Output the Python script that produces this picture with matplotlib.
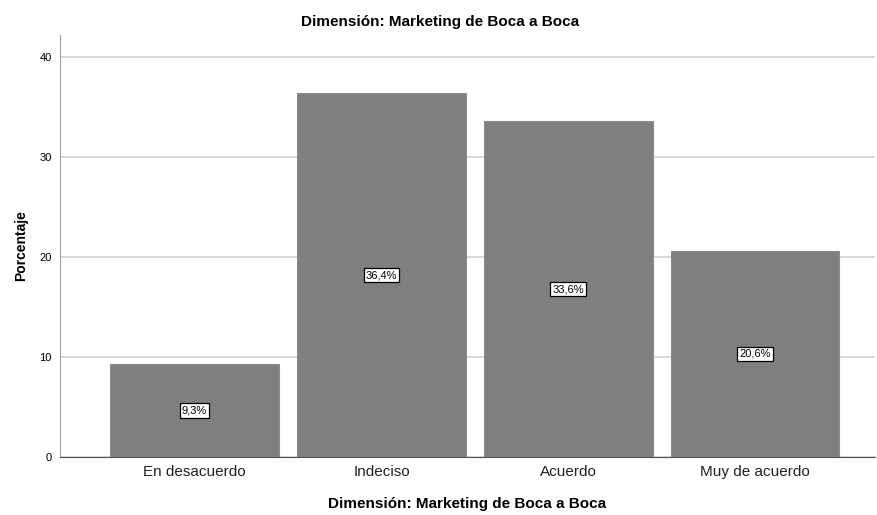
import matplotlib.pyplot as plt

# Data
categorias = ['En desacuerdo', 'Indeciso', 'Acuerdo', 'Muy de acuerdo']
porcentajes = [9.3, 36.4, 33.6, 20.6]
etiquetas = ['9,3%', '36,4%', '33,6%', '20,6%']
y_ticks = [0, 10, 20, 30, 40]

plt.rcParams['font.family'] = ['Liberation Sans', 'DejaVu Sans']

fig = plt.figure(figsize=(8.77, 5.15), dpi=100)
ax = fig.add_axes([60 / 877, 58 / 515, 815 / 877, 422 / 515])

x = range(len(categorias))
ax.bar(x, porcentajes, width=0.9, color='#7f7f7f', edgecolor='#8c8c8c', linewidth=0.8, zorder=3)

# Value labels in the middle of each bar
for i, (v, lab) in enumerate(zip(porcentajes, etiquetas)):
    ax.text(i, v / 2, lab, ha='center', va='center', fontsize=8, color='black', zorder=4,
            bbox=dict(boxstyle='square,pad=0.2', facecolor='white', edgecolor='black', linewidth=0.9))

ax.set_xlim(-0.72, 3.64)
ax.set_ylim(0, 42.2)
ax.set_yticks(y_ticks)
ax.set_yticklabels([str(t) for t in y_ticks], fontsize=8)
ax.set_xticks(list(x))
ax.set_xticklabels(categorias, fontsize=11, color='#222222')
ax.tick_params(axis='both', length=0)
ax.tick_params(axis='y', pad=6)
ax.tick_params(axis='x', pad=6)

ax.yaxis.grid(True, color='#d2d2d2', linewidth=1.2, zorder=0)
ax.set_axisbelow(True)

for s in ['top', 'right']:
    ax.spines[s].set_visible(False)
ax.spines['left'].set_color('#a0a0a0')
ax.spines['bottom'].set_color('#505050')

ax.set_ylabel('Porcentaje', fontsize=10, fontweight='bold', labelpad=8)
ax.set_xlabel('Dimensión: Marketing de Boca a Boca', fontsize=11, fontweight='bold', labelpad=13)
fig.text(0.502, 0.957, 'Dimensión: Marketing de Boca a Boca', ha='center', va='center',
         fontsize=11, fontweight='bold')

fig.savefig('out.png', dpi=100)
